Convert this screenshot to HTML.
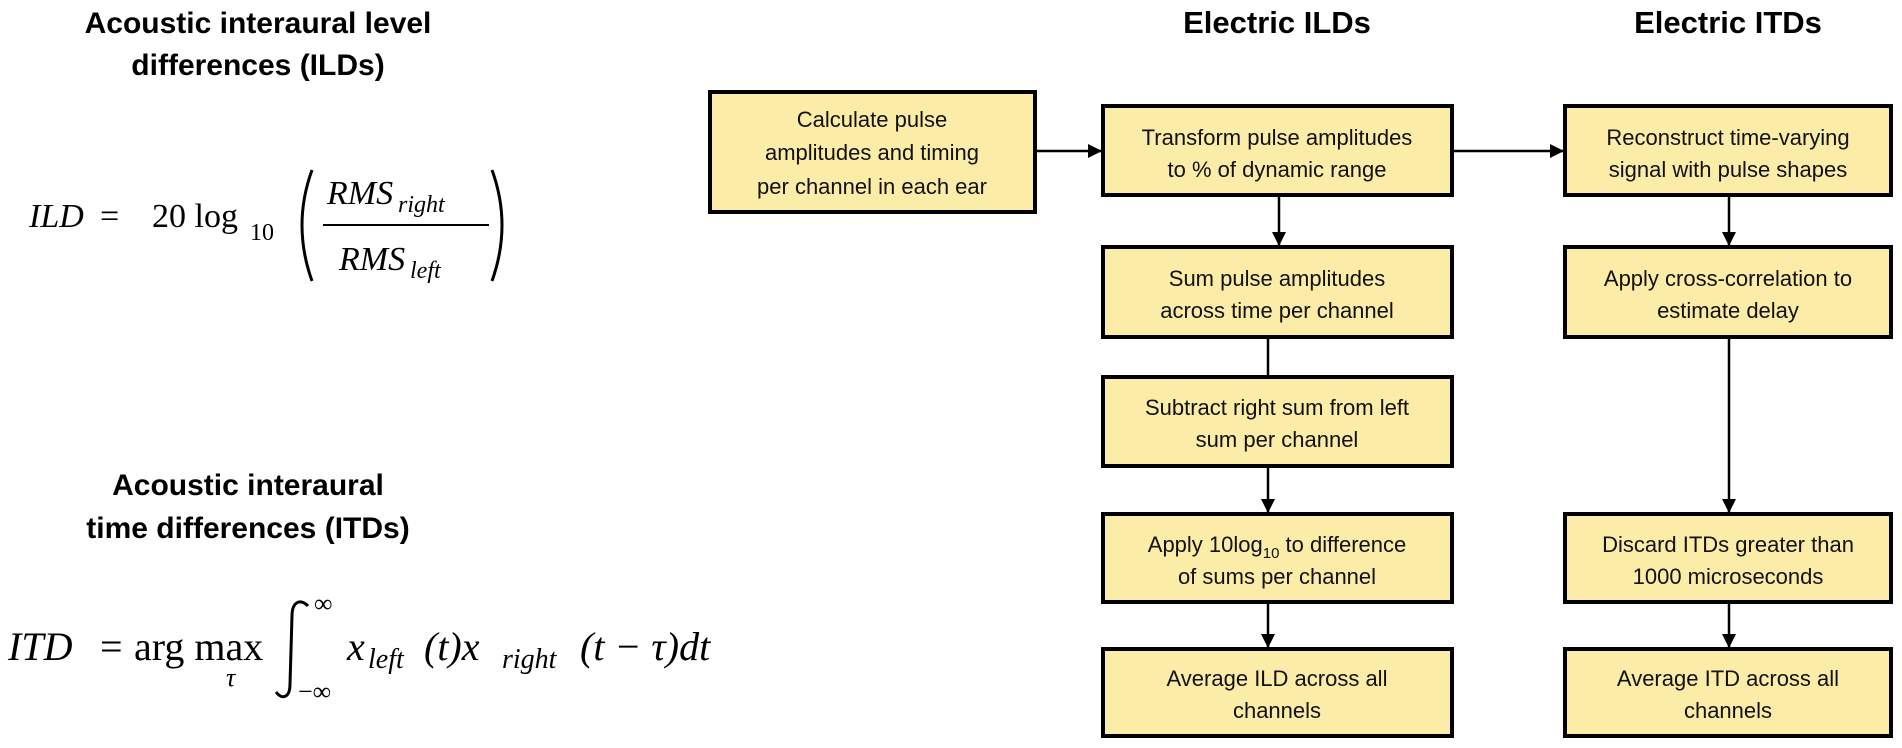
<!DOCTYPE html>
<html><head><meta charset="utf-8"><style>
html,body{margin:0;padding:0;background:#fff;}
svg{display:block;}
.t{font-family:"Liberation Sans",Arial,sans-serif;font-weight:bold;fill:#000;}
.b{font-family:"Liberation Sans",Arial,sans-serif;font-size:22px;fill:#111;text-anchor:middle;}
.m{font-family:"Liberation Serif","DejaVu Serif",serif;fill:#000;}
.i{font-style:italic;}
</style></head><body>
<svg width="1902" height="748" viewBox="0 0 1902 748" xmlns="http://www.w3.org/2000/svg">
<defs><marker id="a" markerWidth="10" markerHeight="10" refX="9" refY="5" orient="auto" markerUnits="userSpaceOnUse"><path d="M0,0 L10,5 L0,10 z" fill="#000"/></marker>
<marker id="ah" markerWidth="14" markerHeight="14" refX="13" refY="7" orient="auto" markerUnits="userSpaceOnUse"><path d="M0,0 L14,7 L0,14 z" fill="#000"/></marker></defs>

<!-- Left titles -->
<text class="t" x="258" y="33" font-size="30" text-anchor="middle">Acoustic interaural level</text>
<text class="t" x="258" y="75" font-size="30" text-anchor="middle">differences (ILDs)</text>
<text class="t" x="248" y="495" font-size="30" text-anchor="middle">Acoustic interaural</text>
<text class="t" x="248" y="538" font-size="30" text-anchor="middle">time differences (ITDs)</text>

<!-- ILD equation -->
<text class="m i" x="29" y="227" font-size="34">ILD</text>
<text class="m" x="100" y="227" font-size="34">=</text>
<text class="m" x="152" y="227" font-size="34">20 log</text>
<text class="m" x="250" y="240" font-size="24">10</text>
<path d="M312 170 Q292 225 312 281" stroke="#000" stroke-width="3" fill="none"/>
<path d="M492 170 Q512 225 492 281" stroke="#000" stroke-width="3" fill="none"/>
<text class="m i" x="327" y="204" font-size="34">RMS</text>
<text class="m i" x="398" y="212" font-size="24">right</text>
<line x1="323" y1="225" x2="489" y2="225" stroke="#000" stroke-width="2"/>
<text class="m i" x="339" y="270" font-size="34">RMS</text>
<text class="m i" x="410" y="278" font-size="24">left</text>

<!-- ITD equation -->
<text class="m i" x="8" y="660" font-size="40">ITD</text>
<text class="m" x="100" y="660" font-size="40">=</text>
<text class="m" x="134" y="660" font-size="40">arg max</text>
<text class="m i" x="226" y="686" font-size="26">τ</text>
<path d="M308 606 C300 598 292 602 292 616 L290 684 C290 698 282 700 276 692" stroke="#000" stroke-width="3" fill="none"/>
<text class="m" x="314" y="612" font-size="26">∞</text>
<text class="m" x="298" y="700" font-size="26">−∞</text>
<text class="m i" x="347" y="660" font-size="40">x</text>
<text class="m i" x="368" y="668" font-size="28">left</text>
<text class="m i" x="424" y="660" font-size="40">(t)x</text>
<text class="m i" x="502" y="668" font-size="28">right</text>
<text class="m i" x="580" y="660" font-size="40">(t − τ)dt</text>

<!-- Right titles -->
<text class="t" x="1277" y="33" font-size="31" text-anchor="middle">Electric ILDs</text>
<text class="t" x="1728" y="33" font-size="31" text-anchor="middle">Electric ITDs</text>

<!-- Boxes -->
<g fill="#fbeca8" stroke="#000" stroke-width="4">
<rect x="710" y="92" width="325" height="120"/>
<rect x="1103" y="106" width="349" height="89"/>
<rect x="1103" y="247" width="349" height="90"/>
<rect x="1103" y="377" width="349" height="89"/>
<rect x="1103" y="514" width="349" height="88"/>
<rect x="1103" y="649" width="349" height="87"/>
<rect x="1565" y="106" width="326" height="89"/>
<rect x="1565" y="247" width="326" height="90"/>
<rect x="1565" y="514" width="326" height="88"/>
<rect x="1565" y="649" width="326" height="87"/>
</g>

<!-- Connectors -->
<g stroke="#000" stroke-width="2.5" fill="none">
<line x1="1037" y1="151" x2="1101" y2="151" marker-end="url(#ah)"/>
<line x1="1454" y1="151" x2="1563" y2="151" marker-end="url(#ah)"/>
<line x1="1279" y1="197" x2="1279" y2="245" marker-end="url(#ah)"/>
<line x1="1268" y1="339" x2="1268" y2="375"/>
<line x1="1268" y1="468" x2="1268" y2="512" marker-end="url(#ah)"/>
<line x1="1268" y1="604" x2="1268" y2="647" marker-end="url(#ah)"/>
<line x1="1729" y1="197" x2="1729" y2="245" marker-end="url(#ah)"/>
<line x1="1729" y1="339" x2="1729" y2="512" marker-end="url(#ah)"/>
<line x1="1729" y1="604" x2="1729" y2="647" marker-end="url(#ah)"/>
</g>

<!-- Box text -->
<text class="b" x="872" y="127">Calculate pulse</text>
<text class="b" x="872" y="160">amplitudes and timing</text>
<text class="b" x="872" y="194">per channel in each ear</text>

<text class="b" x="1277" y="145">Transform pulse amplitudes</text>
<text class="b" x="1277" y="177">to % of dynamic range</text>
<text class="b" x="1277" y="286">Sum pulse amplitudes</text>
<text class="b" x="1277" y="318">across time per channel</text>
<text class="b" x="1277" y="415">Subtract right sum from left</text>
<text class="b" x="1277" y="447">sum per channel</text>
<text class="b" x="1277" y="552">Apply 10log<tspan font-size="15" dy="6">10</tspan><tspan dy="-6"> to difference</tspan></text>
<text class="b" x="1277" y="584">of sums per channel</text>
<text class="b" x="1277" y="686">Average ILD across all</text>
<text class="b" x="1277" y="718">channels</text>

<text class="b" x="1728" y="145">Reconstruct time-varying</text>
<text class="b" x="1728" y="177">signal with pulse shapes</text>
<text class="b" x="1728" y="286">Apply cross-correlation to</text>
<text class="b" x="1728" y="318">estimate delay</text>
<text class="b" x="1728" y="552">Discard ITDs greater than</text>
<text class="b" x="1728" y="584">1000 microseconds</text>
<text class="b" x="1728" y="686">Average ITD across all</text>
<text class="b" x="1728" y="718">channels</text>
</svg>
</body></html>
